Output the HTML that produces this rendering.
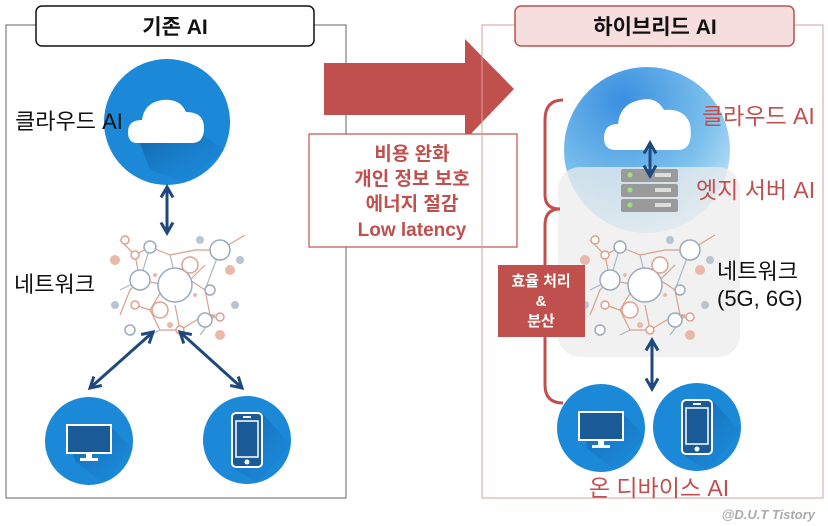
<!DOCTYPE html>
<html><head><meta charset="utf-8">
<style>
html,body{margin:0;padding:0;background:#fff;width:828px;height:526px;overflow:hidden}
text{font-family:"Liberation Sans","Noto Sans CJK KR",sans-serif}
</style></head><body>
<svg width="828" height="526" viewBox="0 0 828 526" xmlns="http://www.w3.org/2000/svg">
<defs>
<radialGradient id="sky" cx="0.35" cy="0.2" r="0.9">
<stop offset="0" stop-color="#3a8fe0"/><stop offset="0.6" stop-color="#7cc0ec"/><stop offset="1" stop-color="#cfe9f8"/>
</radialGradient>
<linearGradient id="sh" x1="0" y1="0" x2="1" y2="1"><stop offset="0" stop-color="#0d4f8a" stop-opacity="0.7"/><stop offset="1" stop-color="#1b88d8" stop-opacity="0"/></linearGradient>
<marker id="ah" viewBox="0 0 10 10" refX="8" refY="5" markerWidth="5" markerHeight="5" orient="auto-start-reverse">
<path d="M1,1 L8,5 L1,9" fill="none" stroke="#1f497d" stroke-width="2"/></marker>
<g id="net">
<g stroke="#d9a08c" stroke-width="1.2" fill="none">
<path d="M-55,-45 L-40,-30 L-25,-38 L-5,-30 L20,-35 L45,-35 L70,-50"/>
<path d="M-40,-30 L-35,-5 L-45,5 L-55,30 M-35,-5 L-10,0 L15,-5 L30,-20 M15,-5 L30,5 L35,30 L45,35"/>
<path d="M-10,0 L-25,25 L-15,45 L5,45 L30,30 L40,30 M5,45 L0,20 M-25,25 L-40,20"/>
</g>
<g stroke="#a8b8c8" stroke-width="1.2" fill="none">
<path d="M-25,-38 L-35,-5 M-5,-30 L0,-10 M45,-35 L30,5 M-55,5 L-35,-5 M-15,45 L-25,50 M40,30 L25,50"/>
</g>
<g fill="#fff" stroke-width="1.5">
<circle cx="0" cy="0" r="17" stroke="#9aabbb"/>
<circle cx="-35" cy="-5" r="10" stroke="#9aabbb"/>
<circle cx="15" cy="-20" r="8" stroke="#e0a090"/>
<circle cx="45" cy="-35" r="10" stroke="#9aabbb"/>
<circle cx="-25" cy="-38" r="6" stroke="#9aabbb"/>
<circle cx="-15" cy="25" r="8" stroke="#e0a090"/>
<circle cx="30" cy="35" r="7" stroke="#9aabbb"/>
<circle cx="-40" cy="-30" r="4" stroke="#e0a090"/>
<circle cx="-50" cy="-45" r="4" stroke="#e0a090"/>
<circle cx="5" cy="45" r="4" stroke="#e0a090"/>
<circle cx="-40" cy="20" r="4" stroke="#e0a090"/>
<circle cx="35" cy="5" r="5" stroke="#9aabbb"/>
<circle cx="-45" cy="45" r="5" stroke="#9aabbb"/>
<circle cx="45" cy="32" r="4" stroke="#e0a090"/>
</g>
<g fill="#e8b8a8"><circle cx="-60" cy="-25" r="5"/><circle cx="55" cy="-15" r="5"/><circle cx="45" cy="50" r="5"/><circle cx="-20" cy="-10" r="2"/><circle cx="20" cy="10" r="2"/><circle cx="-5" cy="40" r="3"/></g>
<g fill="#b8c4d0"><circle cx="25" cy="-45" r="4"/><circle cx="65" cy="-25" r="4"/><circle cx="-60" cy="20" r="4"/><circle cx="60" cy="20" r="4"/></g>
</g>
<g id="mon">
<circle r="44" fill="#1b88d8"/>
<path d="M-20,-14 L22,-14 L44,8 L14,42 L-14,20 Z" fill="url(#sh)"/>
<rect x="-22" y="-16" width="44" height="28" fill="#1a5a96" stroke="#fff" stroke-width="2"/>
<rect x="-3" y="12" width="6" height="6" fill="#fff"/><rect x="-9" y="17" width="18" height="3" fill="#fff"/>
</g>
<g id="ph">
<circle r="44" fill="#1b88d8"/>
<path d="M-14,-28 L14,-28 L44,5 L10,43 L-14,28 Z" fill="url(#sh)"/>
<rect x="-15" y="-27" width="30" height="54" rx="4" fill="#1a5a96" stroke="#fff" stroke-width="2"/>
<rect x="-11" y="-19" width="22" height="36" fill="#1a5a96" stroke="#fff" stroke-width="1.5"/>
<rect x="-4" y="-24" width="8" height="2" fill="#fff"/><circle cx="0" cy="22" r="2.5" fill="#fff"/>
</g>
</defs>

<rect x="6" y="25" width="340" height="473" fill="none" stroke="#666" stroke-width="1"/>
<rect x="36" y="6" width="278" height="40" rx="6" fill="#fff" stroke="#111" stroke-width="1.5"/>
<text x="175" y="34" font-size="21" font-weight="bold" text-anchor="middle" fill="#111">기존 AI</text>
<circle cx="167" cy="122" r="63" fill="#1b88d8"/>
<path d="M135,130 L195,130 L225,150 L185,182 L150,170 Z" fill="url(#sh)"/>
<path d="M137,143 Q128,143 128,132 Q128,120 142,120 Q144,103 162,100 Q180,98 186,112 Q204,112 204,128 Q204,143 192,143 Z" fill="#fff"/>
<text x="15" y="129" font-size="22" fill="#111">클라우드 AI</text>
<line x1="167" y1="187" x2="167" y2="233" stroke="#1f497d" stroke-width="3" marker-start="url(#ah)" marker-end="url(#ah)"/>
<use href="#net" x="175" y="285"/>
<text x="14" y="292" font-size="22" fill="#111">네트워크</text>
<line x1="153" y1="332" x2="90" y2="388" stroke="#1f497d" stroke-width="3" marker-start="url(#ah)" marker-end="url(#ah)"/>
<line x1="180" y1="332" x2="242" y2="388" stroke="#1f497d" stroke-width="3" marker-start="url(#ah)" marker-end="url(#ah)"/>
<use href="#mon" x="89" y="441"/>
<use href="#ph" x="247" y="440"/>

<path d="M324,63 L465,63 L465,39 L514,89 L465,140 L465,115 L324,115 Z" fill="#c0504d"/>
<rect x="309" y="134" width="208" height="113" fill="#fff" stroke="#c0504d" stroke-width="1.2"/>
<g font-size="19" font-weight="bold" fill="#c0504d" text-anchor="middle">
<text x="412" y="160">비용 완화</text>
<text x="412" y="185">개인 정보 보호</text>
<text x="412" y="210">에너지 절감</text>
<text x="412" y="236">Low latency</text>
</g>

<rect x="482" y="25" width="341" height="473" fill="none" stroke="#d8a0a0" stroke-width="1"/>
<rect x="515" y="6" width="279" height="40" rx="6" fill="#f6dede" stroke="#b85450" stroke-width="1.5"/>
<text x="655" y="34" font-size="21" font-weight="bold" text-anchor="middle" fill="#111">하이브리드 AI</text>
<circle cx="647" cy="150" r="83" fill="url(#sky)"/>
<rect x="558" y="167" width="182" height="190" rx="22" fill="#ececec" fill-opacity="0.75"/>
<path d="M616,150 Q604,150 604,138 Q604,124 618,124 Q620,104 640,100 Q656,96 664,110 Q684,108 690,124 Q694,150 678,150 Z" fill="#fff"/>
<g>
<rect x="621" y="169" width="57" height="13" rx="2" fill="#9a9a9a"/>
<rect x="621" y="184" width="57" height="13" rx="2" fill="#9a9a9a"/>
<rect x="621" y="199" width="57" height="13" rx="2" fill="#9a9a9a"/>
<circle cx="630" cy="175" r="2.5" fill="#9fe07a"/><circle cx="630" cy="190" r="2.5" fill="#9fe07a"/><circle cx="630" cy="205" r="2.5" fill="#9fe07a"/>
<g fill="#ddd"><rect x="655" y="173" width="16" height="4"/><rect x="655" y="188" width="16" height="4"/><rect x="655" y="203" width="16" height="4"/></g>
</g>
<line x1="650" y1="143" x2="650" y2="176" stroke="#1f497d" stroke-width="3" marker-start="url(#ah)" marker-end="url(#ah)"/>
<text x="702" y="124" font-size="23" fill="#c0504d">클라우드 AI</text>
<text x="696" y="198" font-size="23" fill="#c0504d">엣지 서버 AI</text>
<use href="#net" x="645" y="285"/>
<text x="717" y="279" font-size="22" fill="#111">네트워크</text>
<text x="717" y="306" font-size="22" fill="#111">(5G, 6G)</text>
<path d="M563,100 Q545,100 545,120 L545,195 Q545,209 560,209 Q545,209 545,225 L545,385 Q545,403 563,403" fill="none" stroke="#c0504d" stroke-width="3"/>
<rect x="498" y="265" width="87" height="72" fill="#c0504d"/>
<g font-size="15" fill="#fff" text-anchor="middle" font-weight="bold">
<text x="541" y="286">효율 처리</text><text x="541" y="306">&amp;</text><text x="541" y="326">분산</text></g>
<line x1="652" y1="340" x2="652" y2="389" stroke="#1f497d" stroke-width="3" marker-start="url(#ah)" marker-end="url(#ah)"/>
<use href="#mon" x="601" y="428"/>
<use href="#ph" x="697" y="427"/>
<text x="659" y="496" font-size="23" fill="#c0504d" text-anchor="middle">온 디바이스 AI</text>
<text x="815" y="519" font-size="13" font-style="italic" font-weight="bold" fill="#aaa" text-anchor="end">@D.U.T Tistory</text>
</svg>
</body></html>
